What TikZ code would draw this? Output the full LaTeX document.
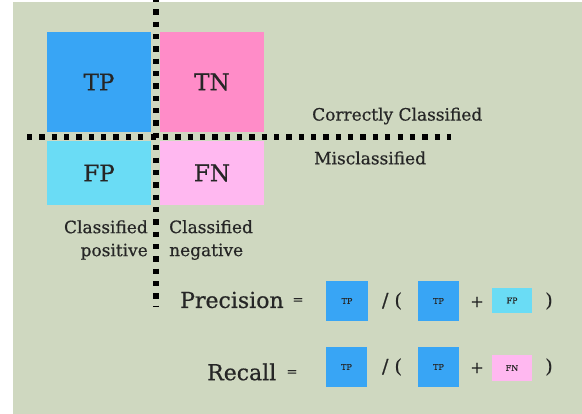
\documentclass[tikz,border=0pt]{standalone}
\usepackage{fontspec}
\setmainfont{DejaVu Serif}[FakeBold=0.6]
\definecolor{bg}{RGB}{207,216,192}
\definecolor{cTP}{RGB}{56,165,245}
\definecolor{cTN}{RGB}{255,140,200}
\definecolor{cFP}{RGB}{106,220,245}
\definecolor{cFN}{RGB}{255,184,240}
\definecolor{ink}{RGB}{38,38,38}
\begin{document}
\begin{tikzpicture}[x=1pt,y=-1pt,
  cell/.style={draw=none,minimum width=104pt,inner sep=0pt,text=ink,font=\fontsize{23}{23}\selectfont},
  mini/.style={draw=none,inner sep=0pt,text=ink,font=\fontsize{8}{8}\selectfont},
  lbl/.style={inner sep=0pt,text=ink,font=\fontsize{17}{17}\selectfont},
  big/.style={inner sep=0pt,text=ink,font=\fontsize{22}{22}\selectfont},
  sym/.style={inner sep=0pt,text=ink,font=\fontsize{19}{19}\selectfont},
  divider/.style={line width=5.3pt,dash pattern=on 5.3pt off 7.05pt,black}]
\useasboundingbox (0,0) rectangle (582,414);
\fill[white] (0,0) rectangle (582,414);
\fill[bg] (13,2) rectangle (582,414);
% matrix cells
\node[cell,fill=cTP,minimum height=100pt] (tp) at (99,82) {TP};
\node[cell,fill=cTN,minimum height=100pt] (tn) at (212,82) {TN};
\node[cell,fill=cFP,minimum height=64pt] (fp) at (99,173) {FP};
\node[cell,fill=cFN,minimum height=64pt] (fn) at (212,173) {FN};
% dividers
\coordinate (vtop) at (156,0);
\coordinate (vbot) at (156,307);
\coordinate (hl) at (27,137);
\coordinate (hr) at (451,137);
\draw[divider,dash phase=3pt] (vtop) -- (vbot);
\draw[divider] (hl) -- (hr);
% labels
\node[lbl,anchor=west] (cc) at (312,116) {Correctly Classified};
\node[lbl,anchor=west] (mc) at (314,158) {Misclassified};
\node[lbl,anchor=east,align=right] (cp) at (148,240) {Classified\\[6pt]positive};
\node[lbl,anchor=west,align=left] (cn) at (169,240) {Classified\\[6pt]negative};
% precision row
\node[big,anchor=west] (prec) at (180,300) {Precision};
\node[inner sep=0pt,text=ink,font=\fontsize{13}{13}\selectfont] (peq) at (298,301) {=};
\node[mini,fill=cTP,minimum width=42pt,minimum height=40pt] (p1) at (347,301) {TP};
\node[sym] (pdiv) at (392,301) {/ (};
\node[mini,fill=cTP,minimum width=41pt,minimum height=40pt] (p2) at (438.5,301) {TP};
\node[sym,font=\fontsize{16}{16}\selectfont] (pplus) at (477,302) {+};
\node[mini,fill=cFP,minimum width=40pt,minimum height=25pt] (p3) at (512,300.5) {FP};
\node[sym] (pcl) at (549,301) {)};
% recall row
\node[big,anchor=west] (rec) at (207,372) {Recall};
\node[inner sep=0pt,text=ink,font=\fontsize{13}{13}\selectfont] (req) at (292,373) {=};
\node[mini,fill=cTP,minimum width=41pt,minimum height=40pt] (r1) at (346.5,367) {TP};
\node[sym] (rdiv) at (392,367) {/ (};
\node[mini,fill=cTP,minimum width=41pt,minimum height=40pt] (r2) at (438.5,367) {TP};
\node[sym,font=\fontsize{16}{16}\selectfont] (rplus) at (477,368) {+};
\node[mini,fill=cFN,minimum width=40pt,minimum height=26pt] (r3) at (512,368) {FN};
\node[sym] (rcl) at (549,367) {)};
\end{tikzpicture}
\end{document}
